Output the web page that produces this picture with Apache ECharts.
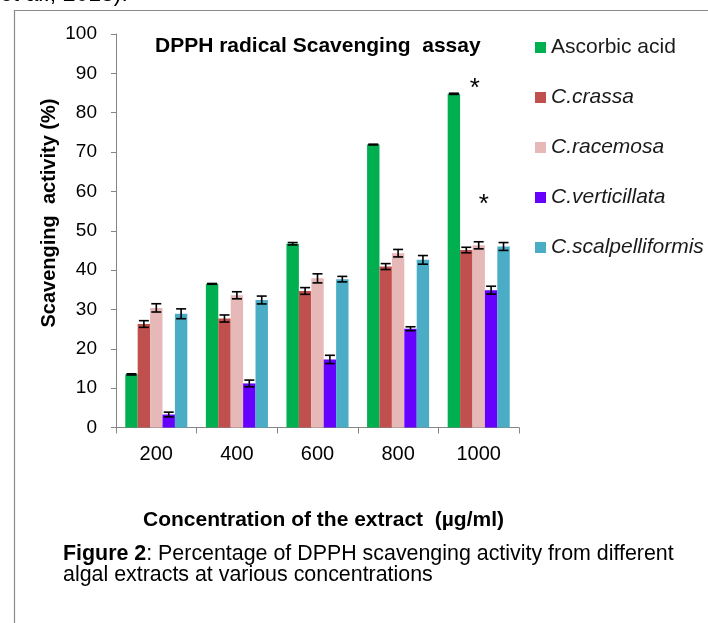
<!DOCTYPE html>
<html>
<head>
<meta charset="utf-8">
<script src="https://cdn.jsdelivr.net/npm/echarts@6/dist/echarts.min.js"></script>
<style>
html,body{margin:0;padding:0;background:#fff;}
#main{width:708px;height:623px;}
</style>
</head>
<body>
<div id="main"></div>
<script>
var categories = ['200', '400', '600', '800', '1000'];
var seriesNames = ['Ascorbic acid', 'C.crassa', 'C.racemosa', 'C.verticillata', 'C.scalpelliformis'];
var ascorbic = [13.5, 36.5, 46.7, 71.9, 84.8];
var crassa = [26.3, 27.7, 34.7, 40.9, 45.1];
var racemosa = [30.4, 33.6, 37.9, 44.3, 46.3];
var verticillata = [3.3, 11.2, 17.3, 25.1, 34.9];
var scalpelliformis = [28.9, 32.4, 37.7, 42.6, 46.0];
var ascorbicErr = [0.15, 0.1, 0.3, 0.1, 0.15];
var crassaErr = [0.85, 0.9, 0.85, 0.75, 0.7];
var racemosaErr = [1.05, 0.9, 1.15, 0.95, 0.9];
var verticillataErr = [0.6, 0.85, 1.05, 0.5, 1.0];
var scalpelliformisErr = [1.25, 1.0, 0.7, 1.1, 1.0];
var yTicks = [0, 100, 10];
var asteriskPoints = [[4, 87.5], [4, 58.1]];

var colors = ['#00b050', '#c0504d', '#e6b9b8', '#6600ff', '#4bacc6'];
var values = [ascorbic, crassa, racemosa, verticillata, scalpelliformis];
var errors = [ascorbicErr, crassaErr, racemosaErr, verticillataErr, scalpelliformisErr];
var CAT_GAP = 0.23;

var chart = echarts.init(document.getElementById('main'), null, {renderer: 'canvas'});

var series = [];
values.forEach(function (vals, k) {
  var s = {
    name: seriesNames[k],
    type: 'bar',
    data: vals,
    barGap: '0%',
    barCategoryGap: (CAT_GAP * 100) + '%',
    itemStyle: {color: colors[k]},
    z: 2
  };
  if (k === 2) {
    s.markPoint = {
      symbol: 'circle',
      symbolSize: 0,
      data: asteriskPoints.map(function (p, i) {
        return {
          coord: p,
          label: {
            show: true, formatter: '*', position: 'inside',
            fontSize: 26, fontFamily: 'Liberation Sans', color: '#000',
            offset: [i === 0 ? -4 : 5, 6]
          }
        };
      })
    };
  }
  series.push(s);
});

values.forEach(function (vals, k) {
  series.push({
    type: 'custom',
    name: seriesNames[k] + ' error',
    z: 5,
    silent: true,
    data: vals.map(function (v, i) { return [i, v - errors[k][i], v + errors[k][i]]; }),
    encode: {x: 0, y: [1, 2]},
    renderItem: function (params, api) {
      var idx = api.value(0);
      var lo = api.coord([idx, api.value(1)]);
      var hi = api.coord([idx, api.value(2)]);
      var catW = api.size([1, 0])[0];
      var barW = catW * (1 - CAT_GAP) / values.length;
      var x = lo[0] + (k - (values.length - 1) / 2) * barW;
      var cap = 5;
      var st = {stroke: '#000', lineWidth: 1.6};
      return {
        type: 'group',
        children: [
          {type: 'line', shape: {x1: x, y1: lo[1], x2: x, y2: hi[1]}, style: st},
          {type: 'line', shape: {x1: x - cap, y1: lo[1], x2: x + cap, y2: lo[1]}, style: st},
          {type: 'line', shape: {x1: x - cap, y1: hi[1], x2: x + cap, y2: hi[1]}, style: st}
        ]
      };
    }
  });
});

var option = {
  animation: false,
  backgroundColor: '#fff',
  textStyle: {fontFamily: 'Liberation Sans'},
  title: {
    text: 'DPPH radical Scavenging  assay',
    left: 155, top: 36, padding: 0,
    textStyle: {fontSize: 21, fontWeight: 'bold', color: '#000', fontFamily: 'Liberation Sans'}
  },
  legend: {
    orient: 'vertical',
    left: 535, top: 37, padding: 0,
    itemWidth: 11, itemHeight: 11, itemGap: 29,
    icon: 'rect',
    textStyle: {fontSize: 21, color: '#1a1a1a', lineHeight: 21, padding: [0, 0, 0, 0]},
    data: seriesNames.map(function (n, i) {
      return i === 0 ? {name: n} : {name: n, textStyle: {fontStyle: 'italic'}};
    })
  },
  grid: {left: 116, right: 189, top: 34, bottom: 195.5, containLabel: false},
  xAxis: {
    type: 'category',
    data: categories,
    axisLine: {lineStyle: {color: '#868686', width: 1}},
    axisTick: {show: true, length: 6, lineStyle: {color: '#868686'}},
    axisLabel: {fontSize: 20, color: '#000', margin: 17},
    splitLine: {show: false}
  },
  yAxis: {
    type: 'value',
    min: yTicks[0], max: yTicks[1], interval: yTicks[2],
    axisLine: {show: true, lineStyle: {color: '#868686', width: 1}},
    axisTick: {show: true, length: 5, lineStyle: {color: '#868686'}},
    axisLabel: {fontSize: 19, color: '#000', margin: 19},
    splitLine: {show: false}
  },
  graphic: [
    {type: 'line', shape: {x1: 14, y1: 10.5, x2: 708, y2: 10.5}, style: {stroke: '#8a8a8a', lineWidth: 1.2}},
    {type: 'line', shape: {x1: 14.5, y1: 10, x2: 14.5, y2: 623}, style: {stroke: '#8a8a8a', lineWidth: 1.2}},
    {type: 'text', left: 0, top: -17, style: {text: 'et al., 2013).', fontSize: 23, fill: '#000', fontFamily: 'Liberation Sans'}},
    {type: 'text', x: 49, y: 213, rotation: Math.PI / 2,
      style: {text: 'Scavenging  activity (%)', fontSize: 20, fontWeight: 'bold', fill: '#000', align: 'center', verticalAlign: 'middle', fontFamily: 'Liberation Sans'}},
    {type: 'text', x: 323.5, y: 520.5,
      style: {text: 'Concentration of the extract  (µg/ml)', fontSize: 21, fontWeight: 'bold', fill: '#000', align: 'center', verticalAlign: 'middle', fontFamily: 'Liberation Sans'}},
    {type: 'text', x: 63, y: 543,
      style: {
        text: '{b|Figure 2}: Percentage of DPPH scavenging activity from different\nalgal extracts at various concentrations',
        fontSize: 21.4, lineHeight: 21.5, fill: '#000', fontFamily: 'Liberation Sans',
        rich: {b: {fontWeight: 'bold', fontSize: 21.4, fontFamily: 'Liberation Sans', fill: '#000'}}
      }}
  ],
  series: series
};
chart.setOption(option);
</script>
</body>
</html>
